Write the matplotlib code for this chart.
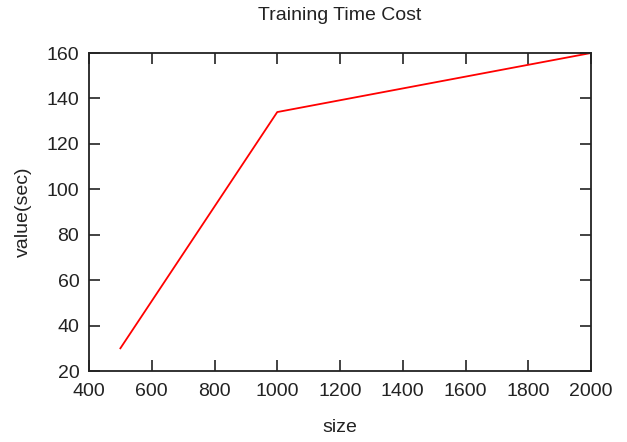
import matplotlib
matplotlib.use("Agg")
import matplotlib.pyplot as plt

sizes = [500, 1000, 2000]
values = [30, 134, 160]
xticks = [400, 600, 800, 1000, 1200, 1400, 1600, 1800, 2000]
yticks = [20, 40, 60, 80, 100, 120, 140, 160]

plt.rcParams['font.family'] = ['Liberation Sans', 'DejaVu Sans']

W, H = 627, 442
fig = plt.figure(figsize=(W/100, H/100), dpi=100)
ax = fig.add_axes([89/W, 1-371/H, (591-89)/W, (371-53)/H])
ax.plot(sizes, values, color='#ff0000', lw=1.3)
ax.set_xlim(400, 2000)
ax.set_ylim(20, 160)
ax.set_xticks(xticks)
ax.set_yticks(yticks)
ax.tick_params(direction='in', length=8, width=1.2, top=True, right=True,
               labelsize=14, colors='#222222')
ax.tick_params(axis='x', pad=9)
ax.tick_params(axis='y', pad=7)
for s in ax.spines.values():
    s.set_linewidth(1.3)
    s.set_color('#222222')
fig.text(340/W, 1-16/H, 'Training Time Cost', fontsize=14, color='#222222',
         ha='center', va='center')
fig.text(340/W, 1-428/H, 'size', fontsize=14, color='#222222',
         ha='center', va='center')
fig.text(23/W, 1-212/H, 'value(sec)', fontsize=14, color='#222222',
         ha='center', va='center', rotation=90)
fig.savefig('out.png', dpi=100)
